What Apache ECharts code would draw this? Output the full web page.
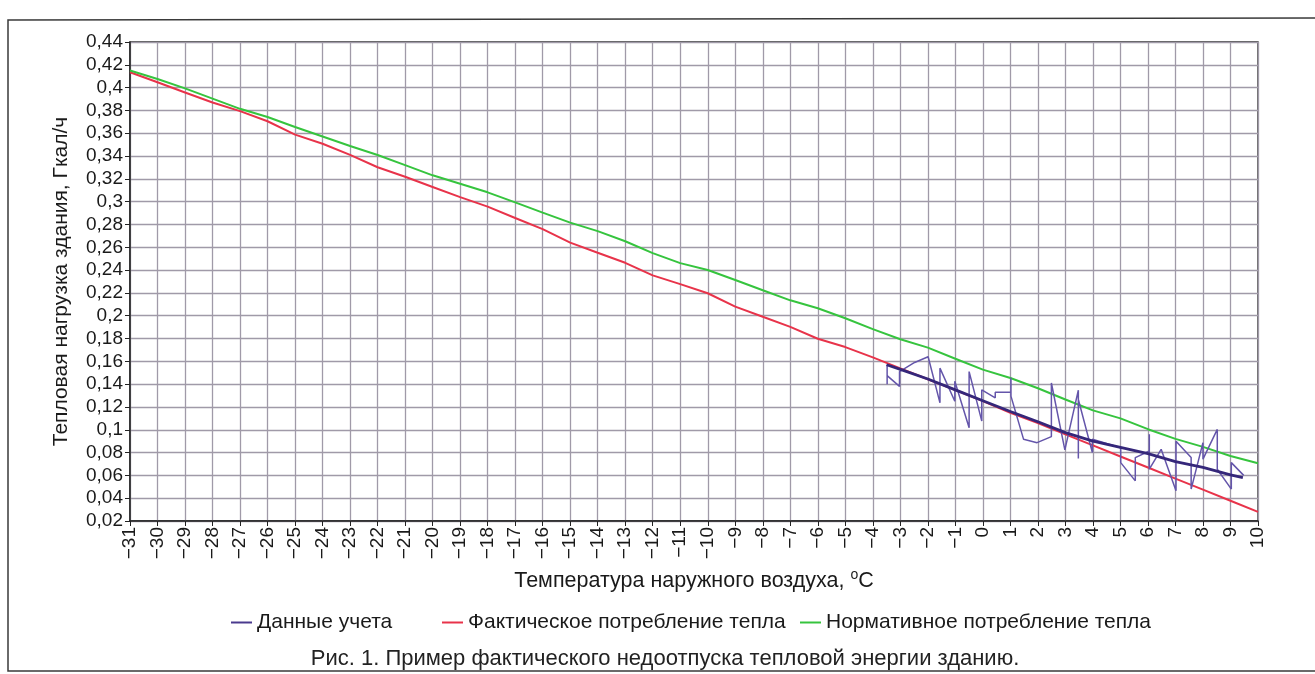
<!DOCTYPE html>
<html>
<head>
<meta charset="utf-8">
<script src="https://cdn.jsdelivr.net/npm/echarts@6/dist/echarts.min.js"></script>
<style>
  html, body { margin: 0; padding: 0; background: #ffffff; }
  #chart { width: 1315px; height: 674px; }
</style>
</head>
<body>
<div id="chart"></div>
<script>
// Outdoor temperature, °C (x axis positions of the model curves)
const temps = [-31, -30, -29, -28, -27, -26, -25, -24, -23, -22, -21, -20, -19, -18, -17, -16,
  -15, -14, -13, -12, -11, -10, -9, -8, -7, -6, -5, -4, -3, -2, -1, 0, 1, 2, 3, 4, 5, 6, 7, 8, 9, 10];

// Actual heat consumption, Gcal/h
const actualLoad = [0.4135, 0.4047, 0.3957, 0.3870, 0.3794, 0.3705, 0.3588, 0.3508, 0.3410, 0.3302,
  0.3218, 0.3129, 0.3040, 0.2957, 0.2857, 0.2759, 0.2641, 0.2552, 0.2464, 0.2354, 0.2277, 0.2197,
  0.2080, 0.1991, 0.1902, 0.1798, 0.1725, 0.1635, 0.1538, 0.1443, 0.1349, 0.1251, 0.1148, 0.1059,
  0.0960, 0.0863, 0.0766, 0.0669, 0.0572, 0.0475, 0.0378, 0.0280];

// Normative heat consumption, Gcal/h
const normLoad = [0.4150, 0.4075, 0.3993, 0.3904, 0.3814, 0.3742, 0.3655, 0.3572, 0.3488, 0.3409,
  0.3320, 0.3231, 0.3157, 0.3082, 0.2994, 0.2904, 0.2816, 0.2742, 0.2653, 0.2549, 0.2461, 0.2401,
  0.2313, 0.2223, 0.2135, 0.2066, 0.1978, 0.1882, 0.1794, 0.1720, 0.1623, 0.1527, 0.1454, 0.1364,
  0.1265, 0.1170, 0.1100, 0.1005, 0.0920, 0.0850, 0.0770, 0.0707];

// Metering records in time order: temperature and measured load
const meterTemp = [-3.48, -3.48, -3.48, -3.03, -3.03, -2.48, -1.99, -1.56, -1.56, -1.02, -1.02,
  -0.50, -0.50, -0.04, -0.04, 0.45, 0.45, 1.02, 1.02, 1.02, 1.48, 1.97, 2.49, 2.49, 2.98, 3.47,
  3.47, 3.47, 3.98, 3.98, 5.01, 5.01, 5.54, 5.54, 6.05, 6.05, 6.05, 6.48, 7.02, 7.02, 7.57, 7.57,
  8.00, 8.00, 8.52, 8.52, 9.03, 9.03, 9.48];
const meterLoad = [0.157, 0.140, 0.1475, 0.138, 0.151, 0.159, 0.164, 0.1236, 0.154, 0.125, 0.1425,
  0.1018, 0.151, 0.1076, 0.135, 0.128, 0.133, 0.133, 0.1455, 0.1295, 0.0916, 0.0887, 0.094, 0.141,
  0.0823, 0.1347, 0.0747, 0.1265, 0.080, 0.0916, 0.0843, 0.0712, 0.0552, 0.0756, 0.0814, 0.096,
  0.0654, 0.0829, 0.0465, 0.090, 0.0756, 0.048, 0.0887, 0.0742, 0.1003, 0.0654, 0.048, 0.0712, 0.060];

// Dense part of the metering records (overlapping readings)
const denseTemp = [-3.5, -3, -2, -1, 0, 1, 2, 3, 4, 5, 6, 7, 8, 9, 9.45];
const denseLoad = [0.157, 0.153, 0.1445, 0.135, 0.1255, 0.116, 0.107, 0.0975, 0.090, 0.0845,
  0.079, 0.072, 0.067, 0.0605, 0.058];

// Y tick range
const yMin = 0.02, yMax = 0.44, yStep = 0.02;

const pairs = (xs, ys) => xs.map((x, i) => [x, ys[i]]);
const fmtY = v => String(parseFloat(v.toFixed(2))).replace('.', ',');
const fmtX = v => (v < 0 ? '\u2212' + Math.abs(v) : String(v));

const FONT = '"Liberation Sans", Arial, sans-serif';
const GRID_COLOR = '#a09aa8';
const TEXT = '#1a1a1a';

const legendText = { fontFamily: FONT, fontSize: 21, color: TEXT };
const legendBase = { top: 607, icon: 'rect', itemWidth: 21, itemHeight: 2, textStyle: legendText };

const chart = echarts.init(document.getElementById('chart'), null, { renderer: 'canvas' });

chart.setOption({
  backgroundColor: '#ffffff',
  animation: false,
  textStyle: { fontFamily: FONT, color: TEXT },
  title: {
    text: 'Рис. 1. Пример фактического недоотпуска тепловой энергии зданию.',
    left: 660, top: 643, textAlign: 'center',
    textStyle: { fontFamily: FONT, fontSize: 22, fontWeight: 'normal', color: '#222' }
  },
  legend: [
    Object.assign({ left: 226, data: ['Данные учета'] }, legendBase),
    Object.assign({ left: 437, data: ['Фактическое потребление тепла'] }, legendBase),
    Object.assign({ left: 795, data: ['Нормативное потребление тепла'] }, legendBase)
  ],
  grid: {
    left: 130, right: 57, top: 42, bottom: 153, containLabel: false,
    show: true, borderColor: '#222', borderWidth: 1.3, backgroundColor: 'transparent'
  },
  xAxis: {
    type: 'value', min: -31, max: 10, interval: 1,
    name: 'Температура наружного воздуха, {sup|o}C',
    nameLocation: 'middle', nameGap: 47,
    nameTextStyle: {
      fontFamily: FONT, fontSize: 21.5, color: TEXT,
      rich: { sup: { fontSize: 14, verticalAlign: 'top', padding: [0, 0, 12, 0] } }
    },
    axisLine: { show: true, onZero: false, lineStyle: { color: '#222', width: 1.5 } },
    axisTick: { show: true, length: 5, lineStyle: { color: '#222' } },
    axisLabel: { rotate: 90, fontSize: 19, color: TEXT, margin: 6, formatter: fmtX },
    splitLine: { show: true, lineStyle: { color: GRID_COLOR, width: 1.3 } }
  },
  yAxis: {
    type: 'value', min: yMin, max: yMax, interval: yStep,
    name: 'Тепловая нагрузка здания, Гкал/ч',
    nameLocation: 'middle', nameGap: 58, nameRotate: 90,
    nameTextStyle: { fontFamily: FONT, fontSize: 21, color: TEXT },
    axisLine: { show: true, onZero: false, lineStyle: { color: '#222', width: 1.5 } },
    axisTick: { show: true, length: 5, lineStyle: { color: '#222' } },
    axisLabel: { fontSize: 19, color: TEXT, margin: 7, formatter: fmtY },
    splitLine: { show: true, lineStyle: { color: GRID_COLOR, width: 1.3 } }
  },
  graphic: [
    {
      type: 'polyline', silent: true,
      shape: { points: [[1315, 18], [8, 20], [8, 671], [1315, 671]] },
      style: { stroke: '#3a3a3a', lineWidth: 1.5, fill: null }
    }
  ],
  series: [
    {
      name: 'Фактическое потребление тепла', type: 'line', showSymbol: false,
      data: pairs(temps, actualLoad),
      lineStyle: { color: '#e8334a', width: 2 }, itemStyle: { color: '#e8334a' }, z: 2
    },
    {
      name: 'Нормативное потребление тепла', type: 'line', showSymbol: false,
      data: pairs(temps, normLoad),
      lineStyle: { color: '#36c43e', width: 2 }, itemStyle: { color: '#36c43e' }, z: 2
    },
    {
      name: 'Данные учета', type: 'line', showSymbol: false,
      data: pairs(meterTemp, meterLoad),
      lineStyle: { color: '#6455aa', width: 1.5 }, itemStyle: { color: '#4a3a8e' }, z: 3
    },
    {
      name: 'Данные учета', type: 'line', showSymbol: false,
      data: pairs(denseTemp, denseLoad),
      lineStyle: { color: '#35277a', width: 2.8 }, itemStyle: { color: '#4a3a8e' }, z: 4
    }
  ]
});
</script>
</body>
</html>
